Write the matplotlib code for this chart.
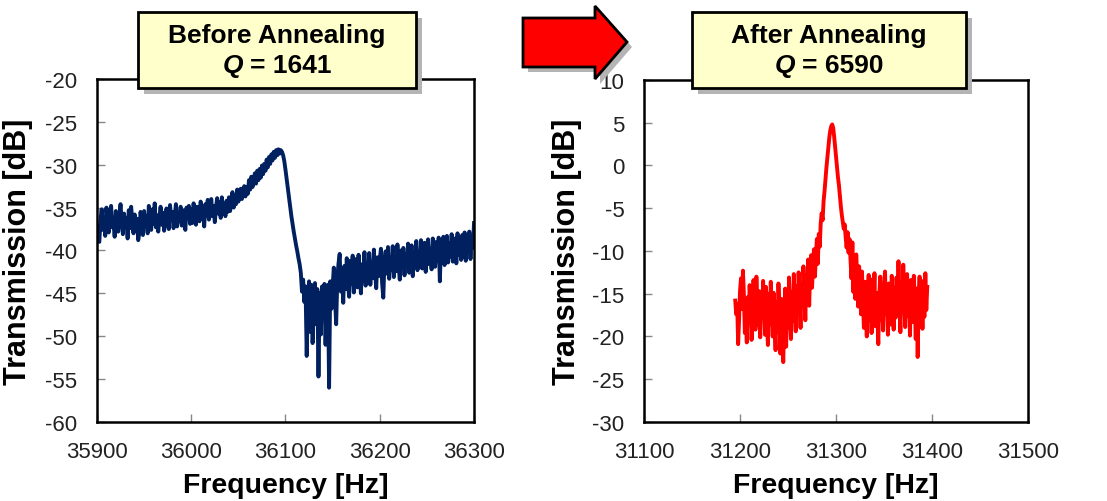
import numpy as np
import matplotlib
matplotlib.use("Agg")
import matplotlib.pyplot as plt
from matplotlib.patches import Rectangle, Polygon

plt.rcParams['font.family'] = ['Liberation Sans', 'DejaVu Sans']
plt.rcParams['axes.unicode_minus'] = False

# Antes do recozimento: varredura 35900 - 36300 Hz (passo 1.25 Hz)
freq_antes = np.linspace(35900, 36300, 321)
trans_antes = [
    # 35900 - 35949
    -37.2, -38.9, -39.0, -36.4, -35.2, -37.6, -36.1, -38.3, -35.0, -36.8,
    -37.9, -35.6, -34.8, -37.3, -36.5, -38.4, -35.4, -36.9, -37.8, -35.9,
    -34.6, -36.7, -38.1, -35.7, -37.0, -36.2, -38.6, -35.3, -37.4, -34.9,
    -36.6, -38.0, -35.8, -37.5, -36.3, -38.8, -37.9, -35.5, -36.9, -38.2,
    # 35950 - 35999
    -35.4, -37.1, -36.0, -38.0, -34.8, -36.5, -37.6, -35.2, -36.9, -34.5,
    -37.3, -35.9, -37.8, -36.2, -34.9, -37.0, -35.6, -37.7, -36.4, -35.1,
    -36.8, -37.5, -34.7, -36.3, -35.5, -37.4, -36.0, -34.6, -37.2, -35.8,
    -36.6, -34.9, -37.1, -35.3, -36.7, -37.6, -35.0, -36.2, -34.8, -36.9,
    # 36000 - 36039
    -35.2, -36.8, -34.5, -36.1, -37.0, -34.9, -35.8, -36.6, -34.3, -36.3,
    -35.1, -37.2, -34.6, -35.9, -34.1, -36.4, -35.4, -34.0, -36.0, -34.8,
    -36.7, -35.0, -33.9, -35.7, -34.4, -36.2, -33.8, -35.3, -34.7, -36.0,
    -34.2, -35.5,
    # 36040 - 36059
    -33.8, -35.4, -34.0, -33.2, -35.0, -33.6, -34.6, -32.9, -34.3, -33.4,
    -32.8, -34.0, -33.1, -32.5, -33.7, -32.6,
    # 36060 - 36079
    -33.4, -31.8, -32.9, -31.4, -32.6, -31.7, -31.0, -32.2, -30.7, -31.8,
    -30.5, -31.5, -30.1, -31.1, -29.9, -30.7,
    # 36080 - 36095 (pico)
    -29.4, -30.3, -29.1, -29.9, -28.8, -29.5, -28.5, -29.2, -28.3, -28.9,
    -28.2, -28.7, -28.3,
    # 36096 - 36115 (queda)
    -28.5, -28.9, -29.6, -30.6, -31.7, -32.9, -34.0, -35.0, -36.0, -36.9,
    -37.8, -38.6, -39.4, -40.1, -40.9, -41.6,
    # 36116 - 36150 (vale)
    -42.6, -44.8, -43.4, -46.0, -44.2, -52.3, -45.6, -43.6, -49.5, -44.0,
    -50.8, -46.2, -43.8, -48.6, -44.5, -54.7, -45.0, -49.8, -44.2, -47.5,
    -43.9, -51.0, -45.2, -44.0, -56.0, -43.6, -46.8, -44.2,
    # 36151 - 36300
    -42.0, -45.6, -48.6, -43.2, -41.5, -40.4, -44.8, -42.3, -46.1, -41.8,
    -44.5, -40.9, -43.6, -45.4, -41.2, -43.9, -40.6, -44.9, -42.1, -41.0,
    -44.3, -40.5, -42.8, -45.0, -41.6, -43.5, -40.2, -44.1, -41.9, -42.9,
    -40.3, -44.0, -41.4, -43.2, -39.9, -42.5, -44.4, -40.8, -43.0, -41.1,
    -39.8, -43.8, -45.5, -41.3, -40.1, -42.7, -39.6, -43.3, -41.0, -42.2,
    -39.5, -43.1, -40.7, -42.4, -39.3, -41.8, -43.4, -40.0, -42.0, -39.7,
    -42.9, -40.4, -41.7, -39.2, -42.6, -40.9, -39.4, -43.0, -40.2, -41.5,
    -38.9, -42.3, -40.6, -41.9, -38.8, -42.1, -40.0, -39.1, -42.5, -40.3,
    -38.7, -41.6, -39.8, -42.2, -38.6, -40.8, -41.9, -39.0, -41.2, -38.5,
    -43.6, -39.4, -41.0, -38.4, -41.7, -39.6, -38.3, -41.4, -39.2, -40.7,
    -38.1, -41.3, -39.5, -38.6, -41.5, -38.0, -40.5, -38.9, -41.1, -38.2,
    -40.8, -37.9, -41.2, -38.7, -40.1, -37.8, -41.0, -38.4, -39.7, -36.8,
]

# Depois do recozimento: varredura 31195 - 31395 Hz (passo 1 Hz)
freq_depois = np.linspace(31195, 31395, 201)
trans_depois = [
    # 31195 - 31259
    -15.8, -17.4, -16.2, -20.9, -18.0, -14.6, -13.2, -16.8, -12.3, -15.1,
    -19.6, -17.2, -20.7, -15.4, -18.3, -14.0, -16.9, -20.4, -17.5, -13.4,
    -15.9, -19.2, -13.0, -16.4, -18.7, -14.7, -20.1, -15.3, -17.6, -13.5,
    -16.1, -19.8, -14.2, -17.9, -21.0, -15.0, -18.5, -13.6, -16.6, -20.0,
    -14.9, -18.9, -21.6, -16.0, -19.5, -13.8, -17.1, -22.0, -15.6, -20.6,
    -23.0, -17.8, -14.4, -21.2, -16.3, -19.0, -13.1, -17.0, -20.3, -14.8,
    -18.2, -12.7, -16.7, -19.4, -14.1,
    # 31260 - 31279
    -17.3, -12.5, -15.5, -19.0, -13.9, -16.2, -11.8, -15.0, -18.1, -12.9,
    -14.6, -11.0, -16.4, -12.2, -10.5, -14.3, -11.4, -9.8, -13.0, -10.6,
    # 31280 - 31295
    -8.6, -11.5, -8.0, -9.5, -6.8, -5.6, -6.4, -4.2, -3.0, -1.6,
    -0.2, 1.0, 2.2, 3.3, 4.1, 4.6,
    # 31296 - 31315
    4.8, 4.4, 3.4, 2.2, 1.0, -0.2, -1.4, -2.3, -3.6, -4.8,
    -5.8, -6.6, -7.4, -6.9, -8.4, -9.6, -7.8, -10.2, -8.6, -11.0,
    # 31316 - 31395
    -13.2, -9.0, -14.8, -11.2, -15.6, -10.4, -13.0, -16.5, -11.8, -14.2,
    -17.4, -12.4, -15.8, -19.0, -13.6, -17.0, -20.0, -14.5, -12.8, -18.2,
    -15.4, -19.6, -13.3, -16.8, -12.6, -18.8, -14.9, -17.5, -20.9, -15.2,
    -13.0, -18.0, -16.1, -19.3, -14.0, -12.4, -17.3, -15.0, -19.8, -13.8,
    -16.5, -18.6, -12.9, -15.7, -19.2, -14.3, -17.8, -13.1, -16.2, -11.2,
    -15.5, -19.5, -13.7, -17.1, -11.6, -16.0, -18.9, -14.1, -12.7, -17.6,
    -15.1, -19.9, -13.4, -16.6, -18.3, -12.9, -15.9, -20.3, -14.4, -22.4,
    -16.3, -13.0, -18.5, -14.7, -19.1, -13.5, -17.7, -12.6, -16.9, -14.2,
]

titulos = ['Before Annealing', 'After Annealing']
fatores_q = ['1641', '6590']

fig = plt.figure(figsize=(11.07, 5.02), dpi=100)
ax1 = fig.add_axes([0.0876, 0.1574, 0.3406, 0.6833])
ax2 = fig.add_axes([0.5818, 0.1574, 0.3469, 0.6813])

ax1.plot(freq_antes, trans_antes, color='#002060', linewidth=2.8)
ax2.plot(freq_depois, trans_depois, color='#FF0000', linewidth=2.8)


def estilo(ax, xlim, ylim, xticks, yticks):
    ax.set_xlim(xlim)
    ax.set_ylim(ylim)
    ax.set_xticks(xticks)
    ax.set_yticks(yticks)
    ax.tick_params(direction='in', length=6, width=1, color='#888888',
                   labelsize=16, labelcolor='#222222', pad=14)
    for s in ax.spines.values():
        s.set_linewidth(1.8)
    ax.set_xlabel('Frequency [Hz]', fontsize=20.5, fontweight='bold')
    ax.set_ylabel('Transmission [dB]', fontsize=22, fontweight='bold')
    ax.xaxis.set_label_coords(0.5, -0.145)


estilo(ax1, (35900, 36300), (-60, -20), range(35900, 36301, 100), range(-60, -19, 5))
estilo(ax2, (31100, 31500), (-30, 10), range(31100, 31501, 100), range(-30, 11, 5))
ax1.yaxis.set_label_coords(-0.17, 0.5)
ax2.yaxis.set_label_coords(-0.161, 0.5)

# camada de desenho em pixels para as caixas e a seta
cam = fig.add_axes([0, 0, 1, 1])
cam.set_xlim(0, 1107)
cam.set_ylim(502, 0)
cam.axis('off')
cam.set_zorder(10)
cam.patch.set_visible(False)

caixas = [(138, 416), (692, 966)]
for (x0, x1), titulo, q in zip(caixas, titulos, fatores_q):
    cam.add_patch(Rectangle((x0 + 6, 19), x1 - x0, 76, color='#b4b4b4', lw=0))
    cam.add_patch(Rectangle((x0, 13), x1 - x0, 76, facecolor='#FFFFCC',
                            edgecolor='black', lw=2))
    cx = (x0 + x1) / 2
    cam.text(cx, 36, titulo, ha='center', va='center', fontsize=19, fontweight='bold')
    corte = cx - 34
    cam.text(corte, 66, 'Q', ha='right', va='center', fontsize=19,
             fontweight='bold', fontstyle='italic')
    cam.text(corte + 7, 66, '= ' + q, ha='left', va='center', fontsize=19,
             fontweight='bold')

seta = [(523, 19), (595, 19), (595, 7), (627, 43), (595, 80), (595, 68), (523, 68)]
cam.add_patch(Polygon([(x + 5, y + 5) for x, y in seta], closed=True,
                      color='#b4b4b4', lw=0))
cam.add_patch(Polygon(seta, closed=True, facecolor='#FF0000', edgecolor='black', lw=2))

fig.savefig('out.png', dpi=100)
